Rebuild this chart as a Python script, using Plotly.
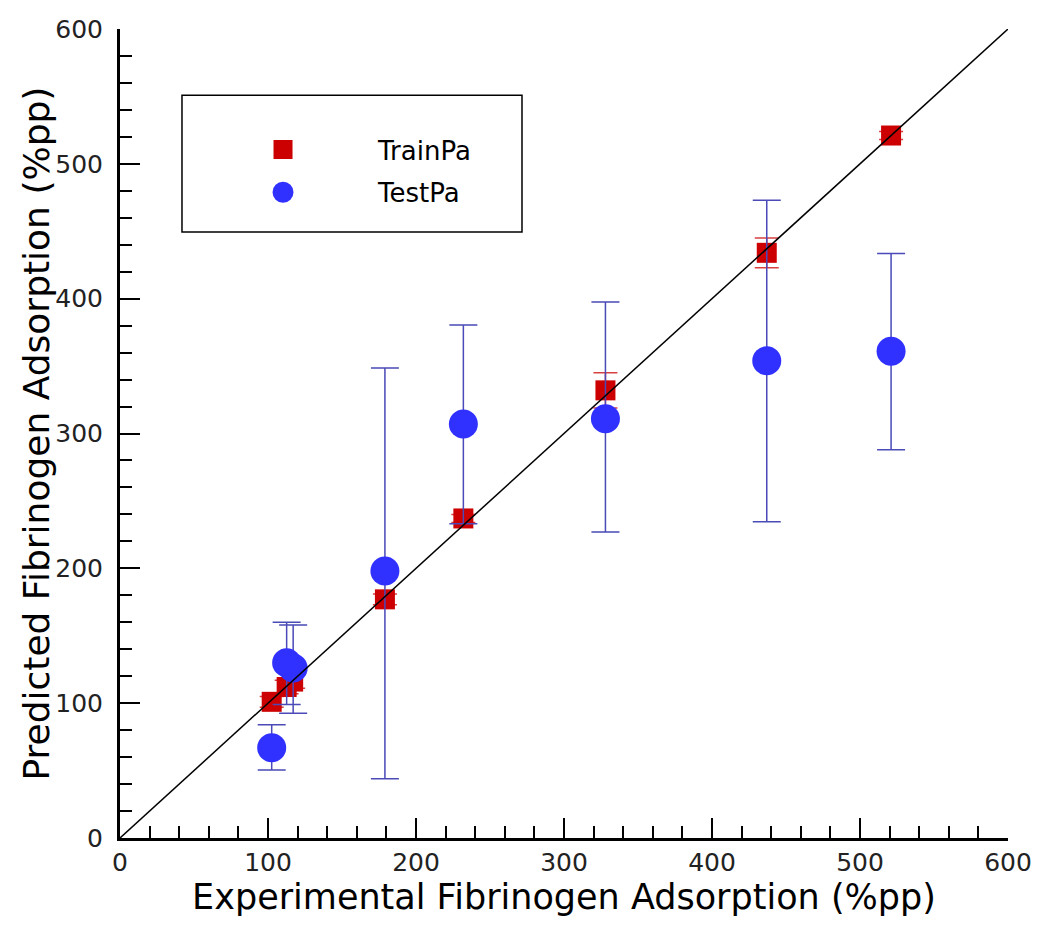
import plotly.graph_objects as go

# ---- data ----
train_x = [102.5, 112.6, 117.0, 179.0, 232.0, 328.0, 437.0, 521.0]
train_y = [101.0, 112.0, 116.0, 177.0, 237.0, 332.0, 434.0, 521.0]
train_err_plus = [4.0, 5.0, 5.0, 4.0, 3.0, 13.0, 11.0, 3.0]
train_err_minus = [4.0, 5.0, 5.0, 4.0, 3.0, 13.0, 11.0, 3.0]

test_x = [102.5, 112.6, 117.0, 179.0, 232.0, 328.0, 437.0, 521.0]
test_y = [67.0, 130.0, 126.0, 198.0, 307.0, 311.0, 354.0, 361.0]
test_upper = [84.0, 160.0, 158.0, 348.5, 380.5, 397.5, 473.0, 433.5]
test_lower = [50.5, 99.0, 92.5, 44.0, 233.0, 227.0, 234.5, 288.0]

diag_x = [0, 600]
diag_y = [0, 600]

x_tickvals = [0, 100, 200, 300, 400, 500, 600]
y_tickvals = [0, 100, 200, 300, 400, 500, 600]

test_plus = [u - y for u, y in zip(test_upper, test_y)]
test_minus = [y - l for l, y in zip(test_lower, test_y)]

RED = "#cc0000"
BLUE = "#3030ff"
ERRBLUE = "#4a4ab8"
ERRRED = "#d84040"
FONT = "DejaVu Sans"

fig = go.Figure()

fig.add_trace(go.Scatter(
    x=train_x, y=train_y, mode="markers", name="TrainPa", showlegend=False,
    marker=dict(symbol="square", size=20, color=RED, line=dict(width=0)),
    error_y=dict(type="data", symmetric=False, array=train_err_plus,
                 arrayminus=train_err_minus, color=ERRRED, thickness=1.5, width=12),
))
fig.add_trace(go.Scatter(
    x=test_x, y=test_y, mode="markers", name="TestPa", showlegend=False,
    marker=dict(symbol="circle", size=29, color=BLUE, line=dict(width=0)),
    error_y=dict(type="data", symmetric=False, array=test_plus,
                 arrayminus=test_minus, color=ERRBLUE, thickness=1.5, width=14),
))
fig.add_trace(go.Scatter(
    x=diag_x, y=diag_y, mode="lines", showlegend=False,
    line=dict(color="black", width=1.5), hoverinfo="skip",
))
# legend entries
fig.add_trace(go.Scatter(
    x=[None], y=[None], mode="markers", name="TrainPa", legendgroup="a",
    marker=dict(symbol="square", size=16, color=RED, line=dict(width=3, color=RED)),
))
fig.add_trace(go.Scatter(
    x=[None], y=[None], mode="markers", name="TestPa", legendgroup="b",
    marker=dict(symbol="circle", size=16, color=BLUE, line=dict(width=5, color=BLUE)),
))

axis_common = dict(
    range=[0, 600], showgrid=False, zeroline=False, automargin=False,
    showline=True, linecolor="black", linewidth=3,
    ticks="inside", ticklen=20, tickwidth=2, tickcolor="black",
    tickfont=dict(family=FONT, size=25, color="#222222"),
    minor=dict(ticks="inside", ticklen=12, tickwidth=1.5, tickcolor="black", dtick=20),
)

fig.update_layout(
    width=1050, height=933,
    margin=dict(l=112, r=50, t=21, b=103),
    paper_bgcolor="white", plot_bgcolor="white",
    xaxis=dict(**axis_common, tickvals=x_tickvals,
               title=dict(text="Experimental Fibrinogen Adsorption (%pp)",
                          font=dict(family=FONT, size=35, color="black"), standoff=4)),
    yaxis=dict(**axis_common, tickvals=y_tickvals, ticklabelstandoff=9),
    annotations=[dict(text="Predicted Fibrinogen Adsorption (%pp)",
                      xref="paper", yref="paper", x=-0.0945, y=0.5,
                      xanchor="center", yanchor="middle", textangle=-90,
                      showarrow=False,
                      font=dict(family=FONT, size=36, color="black"))],
    legend=dict(x=0.0766, y=0.88, xanchor="left", yanchor="top",
                bgcolor="rgba(0,0,0,0)", borderwidth=0,
                font=dict(family=FONT, size=26, color="black"),
                itemwidth=180, tracegroupgap=6),
    shapes=[dict(type="rect", xref="paper", yref="paper",
                 x0=0.0698, x1=0.4527, y0=0.749, y1=0.918,
                 line=dict(color="black", width=1.5), fillcolor="rgba(0,0,0,0)",
                 layer="below")],
    showlegend=True,
)

fig.write_html("out.html")
